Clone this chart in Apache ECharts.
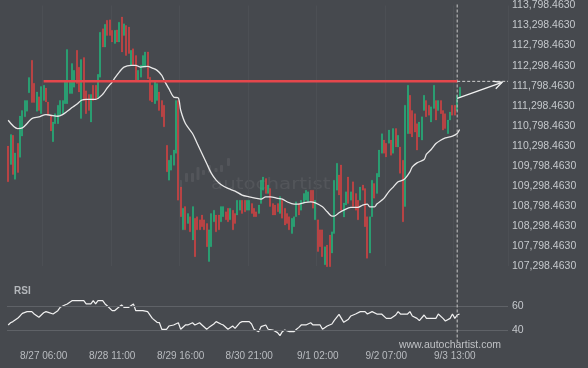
<!DOCTYPE html>
<html><head><meta charset="utf-8">
<script src="https://cdn.jsdelivr.net/npm/echarts@6/dist/echarts.min.js"></script>
<style>html,body{margin:0;padding:0;background:#46494e;}#c{width:588px;height:368px;}</style>
</head><body><div id="c"></div>
<script>
// ---- tick labels ----
const tickIndex = [15, 44, 73, 102, 131, 160, 189];
const tickLabels = ['8/27 06:00', '8/28 11:00', '8/29 16:00', '8/30 21:00', '9/1 02:00', '9/2 07:00', '9/3 13:00'];
const priceMin = 107298.463, priceMax = 113798.463, priceStep = 500;
const rsiLabels = [40, 60];

// ---- candles (hourly), G = up, R = down ----
const dirs = ['RGRGRGGGGG','RRGRGGRRRG','GGGGGGGGGR','RGRRRGRRGG','RGRRRGRGRG',
  'RRGRRGGGGR','RRGGRRRRGG','GGRRGRGRGR','RRRRRGGGRR','GGRRGRRGGR',
  'RGGRRRGGGR','GRRRRGRRRR','GGGRGGGGRR','GRRRGRRGGG','RRGGRGRRRG',
  'RRRGGRGGGR','RGRGRGRRGG','RRRRGGGRRG','GRGRRRGGRR','GG'].join('');
const highs = [
110290,110580,110560,110120,110360,111040,111180,111430,111430,112000,
112430,111860,111640,111520,111780,111810,111740,111390,111060,110890,
111100,111310,111430,111430,111930,112700,111930,112350,112180,112680,
112260,112450,112500,111670,111580,111580,111810,111810,112080,113130,
113220,113330,113430,113440,113180,113180,113190,113380,113510,113340,
113300,113260,112680,112720,112550,112180,112310,112550,112640,112640,
112010,111810,111890,111850,111640,111430,111310,110310,109940,110060,
110190,111430,111430,109270,108740,108780,108610,108530,108780,108490,
108530,108450,108570,108450,108360,108200,108610,108690,108570,108570,
108780,108780,108650,108740,108740,108690,108610,108940,108940,108940,
108940,108940,108940,108860,108740,108650,108820,109440,109520,109480,
109320,109230,108860,108820,108860,109030,108940,108740,108610,108530,
108490,108530,108900,108860,108940,109110,109190,109150,109190,109190,
108940,108450,108200,108200,107780,107820,108070,108150,109440,109860,
109570,109820,108870,109150,109520,109150,109400,109110,108940,109270,
109320,109230,108530,108530,109440,109360,109610,110190,110600,110440,
110360,110690,110440,110730,110730,110560,110270,109940,111310,111810,
111560,111180,111100,110850,110890,111020,111560,111430,111310,111270,
111810,111430,111430,111430,111180,111100,110940,111140,111310,111310,
111560,111760];
const lows = [
109400,109830,109580,109460,109630,110010,110540,111020,111160,111620,
111380,111380,111160,111180,111100,111430,111390,111060,110670,110400,
110850,110850,111060,111100,111350,111350,111600,111600,111760,111850,
111640,110980,111430,111100,111180,110890,111430,111450,111480,112010,
112760,112760,113050,113050,112890,112850,112890,112890,112640,113050,
112550,112600,112310,112310,111930,111930,112010,112260,112260,111970,
111430,111390,111350,111430,111180,111020,110770,109650,109440,109690,
109810,110110,108940,108530,108200,108200,108360,108150,107950,107530,
108200,108200,108280,108200,107780,107410,107780,108400,108150,108200,
108400,108530,108450,108400,108450,108200,108360,108570,108690,108610,
108650,108690,108690,108610,108530,108530,108610,108860,109190,109110,
109110,108780,108570,108570,108650,108610,108490,108320,108360,108200,
108110,108280,108530,108570,108690,108860,108940,108900,108900,108740,
108450,107660,107780,107530,107330,107280,107280,107620,108110,109190,
109070,108690,108520,108820,108860,108940,108780,108690,108450,108940,
109190,108280,107490,107620,108530,108990,109110,109520,110110,110110,
110020,110360,110060,110110,110270,110270,109610,108400,108780,110600,
110600,110520,110640,110190,110520,110440,111180,111020,111060,110890,
111230,110940,111180,111100,110690,110730,110600,110940,111060,111060,
111180,111520];

// ---- moving average: [candle index, price] ----
const maPoints = [[0,110935],[4,110728],[6,110743],[8,110853],[10,110977],[13,111017],[16,111077],[18,111060],[21,111035],[23,111077],[25,111159],[27,111251],[29,111333],[31,111433],[33,111458],[37,111458],[40,111582],[42,111749],[44,111889],[45,111981],[47,112138],[49,112262],[52,112305],[54,112305],[56,112262],[59,112280],[61,112237],[63,112180],[65,112056],[66,111931],[68,111724],[70,111515],[72,111490],[73,111184],[75,110853],[78,110604],[80,110355],[82,110106],[84,109857],[86,109608],[88,109441],[90,109334],[93,109234],[96,109167],[99,109068],[102,109025],[105,108985],[107,108968],[109,109025],[111,109025],[114,108985],[116,108968],[118,108901],[121,108843],[123,108843],[125,108876],[128,108901],[130,108876],[133,108776],[135,108652],[137,108545],[138,108545],[140,108627],[142,108694],[145,108761],[148,108761],[150,108819],[152,108843],[153,108776],[155,108776],[156,108843],[159,108985],[161,109150],[163,109274],[165,109399],[167,109441],[168,109483],[170,109648],[171,109772],[173,109872],[176,109956],[177,110088],[179,110205],[181,110355],[183,110437],[185,110494],[188,110537],[190,110604],[191,110704]];

// ---- RSI: [candle index, value] ----
const rsiPoints = [[0,44.2],[1,46],[2,47],[4,49.7],[5,51.7],[6,53.9],[8,55.3],[10,55.3],[11,53.3],[13,50.6],[15,54.4],[16,55.3],[17,54.7],[19,53.3],[21,56.1],[22,58.9],[24,60.8],[25,61.7],[27,64.4],[30,64.4],[32,64.4],[33,61.7],[35,61.7],[36,64.4],[37,61.7],[38,64.4],[40,64.4],[41,61.7],[42,60],[44,56.1],[45,56.1],[47,59.4],[48,60.8],[49,58.9],[51,58.9],[53,61.7],[54,56.1],[57,56.1],[59,55.3],[61,49.7],[63,46.4],[64,46.1],[65,40.6],[67,40.6],[68,43.3],[70,44.2],[72,46],[73,40.6],[75,44.2],[76,44.2],[78,46],[79,44.2],[81,46],[82,44.2],[84,40.6],[85,42.2],[87,45],[88,47],[90,45],[91,44.2],[93,40.6],[95,43.3],[96,41.4],[98,46],[99,47],[102,47],[103,45],[104,40.6],[106,38.6],[107,42.8],[109,44.2],[110,40.6],[112,40],[114,37.8],[115,35.3],[116,38.6],[117,40],[119,38.6],[121,38.6],[122,40.6],[123,42.2],[124,44.2],[126,44.2],[128,46],[129,44.2],[132,44.2],[133,40.6],[135,43.3],[137,45],[138,48],[140,53],[141,49.7],[142,46.4],[144,49],[145,51.7],[147,53.3],[149,55.3],[151,55.3],[152,53.3],[154,55.3],[156,53.3],[158,53.3],[160,49.7],[162,49.7],[164,52.5],[165,55.3],[166,53.3],[169,53.3],[170,55.3],[171,51.7],[173,49.7],[174,47.8],[176,52.5],[177,49.7],[179,49.7],[181,49.7],[182,53.3],[184,49.7],[185,47.5],[187,49.7],[188,53.3],[189,49.7],[190,52.5],[191,53.3]];

// ---- resistance level & projection ----
const levelPrice = 111906, levelStart = 15, levelEnd = 190;
const arrowFrom = [190, 111483], arrowTo = [209, 111881];

const PAD = 20;
const N = highs.length;
const cats = [];
for (let i = 0; i < N + PAD; i++) cats.push(String(i));
const ohlc = highs.map((h, i) => dirs[i] === 'G' ? [lows[i], h, lows[i], h] : [h, lows[i], lows[i], h]);

const FONT = '"Liberation Sans", Arial, sans-serif';
const chart = echarts.init(document.getElementById('c'), null, {renderer: 'canvas'});
const fmt = v => {
  const k = Math.round((v - priceMin) / priceStep);
  const val = priceMin + k * priceStep;
  return val.toLocaleString('en-US', {minimumFractionDigits: 4, maximumFractionDigits: 4});
};
const isTick = i => tickIndex.indexOf(i) >= 0;

const logoBars = [[179,180,10],[185,173,9],[191,173,9],[196.5,167,13],[202,170,5],[208,165,8],[214.5,168,4],[220,165,7],[227,158,8]];

chart.setOption({
  backgroundColor: '#46494e',
  animation: false,
  graphic: [
    {type: 'text', x: 211, y: 185, z: 0, scaleX: 1.32, silent: true,
     style: {text: 'autochartist', fill: 'rgba(255,255,255,0.07)', font: '15px "DejaVu Sans", sans-serif', verticalAlign: 'middle'}},
    ...logoBars.map(b => ({type: 'rect', z: 0, silent: true, shape: {x: b[0], y: b[1], width: 3, height: b[2], r: 1}, style: {fill: 'rgba(255,255,255,0.07)'}})),
    {type: 'text', x: 14, y: 291, z: 10, style: {text: 'RSI', fill: '#b4b7bb', font: 'bold 10px ' + FONT, verticalAlign: 'middle'}},
    {type: 'text', x: 501, y: 345, z: 10, style: {text: 'www.autochartist.com', fill: '#bfc1c4', font: '10.5px ' + FONT, align: 'right', verticalAlign: 'middle'}}
  ],
  grid: [
    {left: 7, right: 80, top: 5, height: 261},
    {left: 7, right: 80, top: 288, height: 60}
  ],
  xAxis: [
    {type: 'category', gridIndex: 0, data: cats, boundaryGap: true,
     axisLine: {show: false}, axisTick: {show: false, alignWithLabel: true}, axisLabel: {show: false},
     splitLine: {show: true, interval: i => isTick(i), lineStyle: {color: '#4c4f54', width: 1}}},
    {type: 'category', gridIndex: 1, data: cats, boundaryGap: true,
     axisLine: {show: false}, axisTick: {show: false},
     axisLabel: {interval: i => isTick(i), formatter: (v, i) => tickLabels[tickIndex.indexOf(i)] || '',
       color: '#b9bcc0', fontSize: 10, fontFamily: FONT, margin: 3},
     splitLine: {show: false}}
  ],
  yAxis: [
    {type: 'value', gridIndex: 0, position: 'right', min: priceMin, max: priceMax, interval: priceStep,
     axisLine: {show: false}, axisTick: {show: false}, splitLine: {show: false},
     axisLabel: {formatter: fmt, color: '#c5c8cc', fontSize: 10.5, fontFamily: FONT, margin: 4}},
    {type: 'value', gridIndex: 1, position: 'right', min: 25, max: 75, interval: 5,
     axisLine: {show: false}, axisTick: {show: false}, splitLine: {show: false},
     axisLabel: {formatter: v => rsiLabels.indexOf(v) >= 0 ? String(v) : '', color: '#c5c8cc', fontSize: 10.5, fontFamily: FONT, margin: 4}}
  ],
  series: [
    {type: 'candlestick', xAxisIndex: 0, yAxisIndex: 0, data: ohlc, barWidth: 1.5, z: 2,
     itemStyle: {color: '#1ccb86', color0: '#f5423f', borderColor: '#1ccb86', borderColor0: '#f5423f', borderWidth: 0.3}},
    {type: 'line', xAxisIndex: 0, yAxisIndex: 0, data: maPoints, symbol: 'none', smooth: 0.3, z: 3,
     lineStyle: {color: '#e8e8e8', width: 1.3}},
    {type: 'line', xAxisIndex: 1, yAxisIndex: 1, data: rsiPoints, symbol: 'none', z: 3,
     lineStyle: {color: '#f0f0f0', width: 1.2},
     markLine: {silent: true, symbol: 'none', label: {show: false}, animation: false,
       lineStyle: {color: '#5f6267', type: 'solid', width: 1}, data: [{yAxis: 40}, {yAxis: 60}]}},
    {type: 'custom', xAxisIndex: 0, yAxisIndex: 0, data: [[0, levelPrice]], clip: false, z: 5, silent: true,
     renderItem: (params, api) => {
       const cs = params.coordSys;
       const a = api.coord([levelStart, levelPrice]);
       const b = api.coord([levelEnd, levelPrice]);
       const s = api.coord(arrowFrom), e = api.coord(arrowTo);
       const ang = Math.atan2(e[1] - s[1], e[0] - s[0]);
       const L = 9, sp = 0.45;
       const h1 = [e[0] - L * Math.cos(ang - sp), e[1] - L * Math.sin(ang - sp)];
       const h2 = [e[0] - L * Math.cos(ang + sp), e[1] - L * Math.sin(ang + sp)];
       return {type: 'group', children: [
         {type: 'line', shape: {x1: b[0], y1: cs.y - 1, x2: b[0], y2: cs.y + cs.height + 76}, style: {stroke: '#c8c8c8', lineWidth: 1, lineDash: [3, 2]}},
         {type: 'line', shape: {x1: a[0], y1: a[1], x2: b[0], y2: b[1]}, style: {stroke: '#e4474c', lineWidth: 2.5}},
         {type: 'line', shape: {x1: b[0], y1: b[1], x2: cs.x + cs.width, y2: b[1]}, style: {stroke: '#d0d0d0', lineWidth: 1, lineDash: [3, 2]}},
         {type: 'polyline', shape: {points: [s, e]}, style: {stroke: '#f2f2f2', lineWidth: 1.3, fill: null}},
         {type: 'polyline', shape: {points: [h1, e, h2]}, style: {stroke: '#f2f2f2', lineWidth: 1.3, fill: null}}
       ]};
     }}
  ]
});
</script>
</body></html>
